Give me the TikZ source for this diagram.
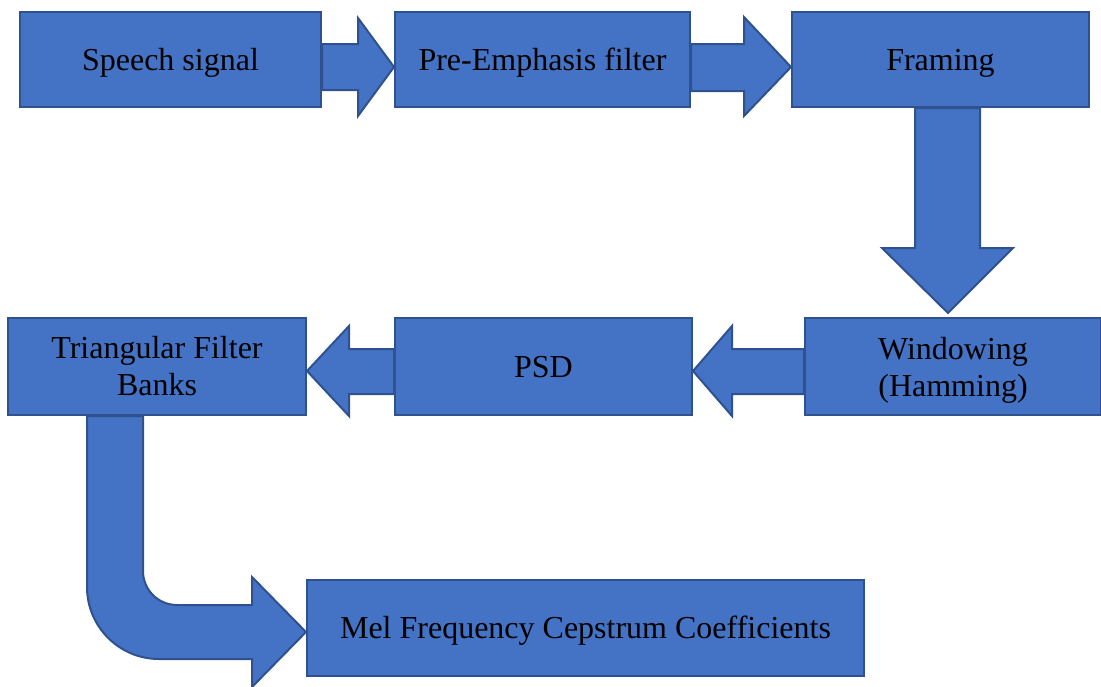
\documentclass[tikz,border=0pt]{standalone}
\usepackage{fontspec}
\setmainfont{Liberation Serif}
\usepackage{tikz}
\usetikzlibrary{calc}

\definecolor{stageblue}{HTML}{4472C4}
\definecolor{stageline}{HTML}{2F528F}

\begin{document}
\begin{tikzpicture}[
	x=1pt, y=-1pt,
	every node/.style={font=\fontsize{32}{37}\selectfont},
	stage/.style={draw=stageline, fill=stageblue, line width=2pt, align=center, inner sep=0pt},
	oneline/.style={text height=21pt, text depth=0pt},
	blockarrow/.style={draw=stageline, fill=stageblue, line width=2pt},
	line join=miter
	]
	\useasboundingbox (0,0) rectangle (1101,686);

	% top row
	\node[stage, oneline, minimum width=301pt, minimum height=95pt] (speech) at (170.5,59.5) {Speech signal};
	\node[stage, oneline, minimum width=295pt, minimum height=95pt] (pre) at (542.5,59.5) {Pre-Emphasis filter};
	\node[stage, oneline, minimum width=297pt, minimum height=95pt] (framing) at (940.5,59.5) {Framing};

	% middle row
	\node[stage, text depth=0pt, minimum width=296pt, minimum height=97pt] (windowing) at (953,366.5) {Windowing\\(Hamming)};
	\node[stage, oneline, minimum width=297pt, minimum height=97pt] (psd) at (543.5,366.5) {PSD};
	\node[stage, minimum width=298pt, minimum height=97pt] (tri) at (157,366.5) {Triangular Filter\\Banks};

	% bottom
	\node[stage, oneline, minimum width=557pt, minimum height=96pt] (mfcc) at (585.5,628) {Mel Frequency Cepstrum Coefficients};

	% block arrows
	\draw[blockarrow] (speech.east |- 0,44) -- (358,44) -- (358,18) -- (pre.west |- 0,67)
		-- (358,116) -- (358,90) -- (speech.east |- 0,90) -- cycle;
	\draw[blockarrow] (pre.east |- 0,44) -- (744,44) -- (744,17) -- (framing.west |- 0,67)
		-- (744,116) -- (744,91) -- (pre.east |- 0,91) -- cycle;
	\draw[blockarrow] (915,0 |- framing.south) -- (915,248) -- (882,248) -- (948,313)
		-- (1013,248) -- (980,248) -- (980,0 |- framing.south) -- cycle;
	\draw[blockarrow] (windowing.west |- 0,349) -- (732,349) -- (732,326) -- (psd.east |- 0,371)
		-- (732,416) -- (732,394) -- (windowing.west |- 0,394) -- cycle;
	\draw[blockarrow] (psd.west |- 0,349) -- (349,349) -- (349,326) -- (tri.east |- 0,371)
		-- (349,416) -- (349,394) -- (psd.west |- 0,394) -- cycle;
	\draw[blockarrow] (87,0 |- tri.south) -- (87,587) .. controls (87,626.7) and (119.3,659) .. (159,659)
		-- (252,659) -- (252,687) -- (mfcc.west |- 0,632) -- (252,577) -- (252,605) -- (177,605)
		.. controls (158.2,605) and (143,589.8) .. (143,571) -- (143,0 |- tri.south) -- cycle;

\end{tikzpicture}
\end{document}
